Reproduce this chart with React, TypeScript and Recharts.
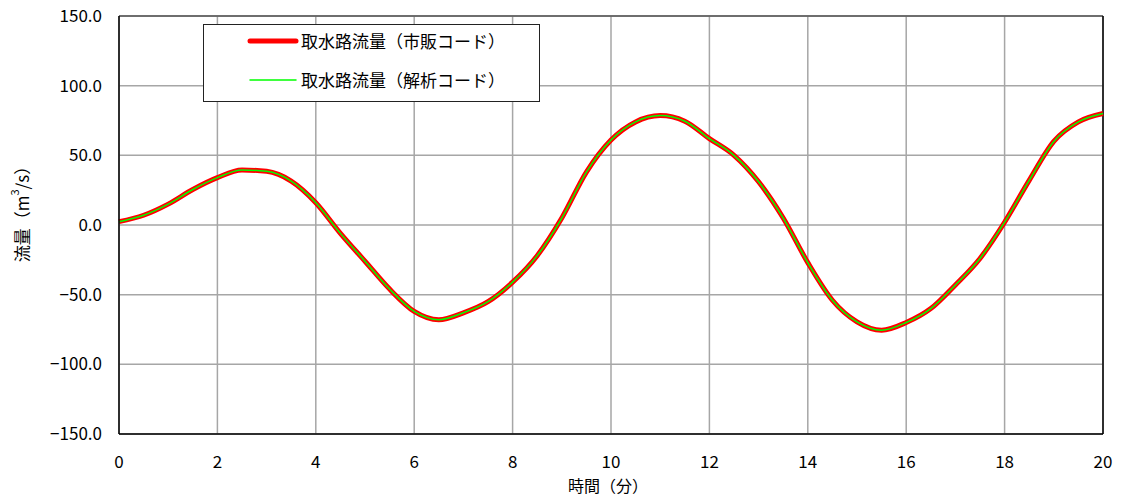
import React from "react";
import {
  LineChart,
  Line,
  XAxis,
  YAxis,
  CartesianGrid,
  Legend,
  ReferenceLine,
} from "recharts";

// 時間(分)
const minutes = [
  0, 0.5, 1, 1.5, 2, 2.5, 3, 3.5, 4, 4.5, 5, 5.5, 6, 6.5, 7, 7.5, 8, 8.5, 9,
  9.5, 10, 10.5, 11, 11.5, 12, 12.5, 13, 13.5, 14, 14.5, 15, 15.5, 16, 16.5,
  17, 17.5, 18, 18.5, 19, 19.5, 20,
];

// 取水路流量(市販コード) m3/s
const commercialFlow = [
  2.4, 7, 15, 25.5, 34, 39.5, 38.5, 31.5, 16, -6, -26, -46, -62, -68, -63, -55,
  -41, -22, 5, 38, 61, 74, 78.5, 74.5, 62, 50, 31, 5, -27, -54, -69.5, -75.5,
  -70, -60, -43, -24, 2, 32, 60, 74, 80,
];

// 取水路流量(解析コード) m3/s
const analysisFlow = [
  2.4, 7, 15, 25.5, 34, 39.5, 38.5, 31.5, 16, -6, -26, -46, -62, -68, -63, -55,
  -41, -22, 5, 38, 61, 74, 78.5, 74.5, 62, 50, 31, 5, -27, -54, -69.5, -75.5,
  -70, -60, -43, -24, 2, 32, 60, 74, 80,
];

const xTicks = [0, 2, 4, 6, 8, 10, 12, 14, 16, 18, 20];
const yTicks = [-150, -100, -50, 0, 50, 100, 150];

const data = minutes.map((t, i) => ({
  t,
  commercial: commercialFlow[i],
  analysis: analysisFlow[i],
}));

const FONT = '"Noto Sans CJK JP", "Noto Sans", sans-serif';
const TICK_STYLE = { fontSize: 17, fill: "#000", fontFamily: FONT };

const fmtY = (v: number) =>
  v < 0 ? "\u2212" + Math.abs(v).toFixed(1) : v.toFixed(1);

function YLabel() {
  return (
    <text
      x={21}
      y={210}
      transform="rotate(-90 21 210)"
      textAnchor="middle"
      dominantBaseline="central"
      fontSize={17}
      fontFamily={FONT}
      fill="#000"
    >
      流量（m
      <tspan dy={-7} fontSize={11}>
        3
      </tspan>
      <tspan dy={7}>/s）</tspan>
    </text>
  );
}

function XLabel() {
  return (
    <text
      x={608}
      y={485}
      textAnchor="middle"
      dominantBaseline="central"
      fontSize={16}
      fontFamily={FONT}
      fill="#000"
    >
      時間（分）
    </text>
  );
}

function renderLegend(props: any) {
  const { payload = [] } = props;
  return (
    <div
      style={{
        boxSizing: "border-box",
        width: 337,
        height: 78,
        border: "1px solid #222",
        background: "#fff",
        fontFamily: FONT,
        fontSize: 17,
      }}
    >
      {payload.map((entry: any, i: number) => (
        <div
          key={entry.value}
          style={{ display: "flex", alignItems: "center", height: 32, marginTop: i ? 7 : 0 }}
        >
          <svg width={97} height={10} style={{ flex: "none" }}>
            <line
              x1={46}
              x2={92}
              y1={5}
              y2={5}
              stroke={entry.color}
              strokeWidth={i === 0 ? 5 : 1.5}
              strokeLinecap="round"
            />
          </svg>
          <span style={{ color: "#000", whiteSpace: "nowrap", lineHeight: "32px" }}>{entry.value}</span>
        </div>
      ))}
    </div>
  );
}

export default function App() {
  return (
    <div style={{ position: "absolute", left: 0, top: 0, fontFamily: FONT, background: "#fff" }}>
      <LineChart
        width={1127}
        height={498}
        data={data}
        margin={{ top: 16, right: 24, left: 0, bottom: 0 }}
      >
        <CartesianGrid stroke="#a6a6a6" strokeWidth={1.5} horizontalValues={yTicks} verticalValues={xTicks} />
        <XAxis
          dataKey="t"
          type="number"
          domain={[0, 20]}
          ticks={xTicks}
          tick={TICK_STYLE}
          tickLine={false}
          tickSize={0}
          tickMargin={22}
          height={64}
          stroke="#000"
          strokeWidth={1.5}
          label={<XLabel />}
        />
        <YAxis
          type="number"
          domain={[-150, 150]}
          ticks={yTicks}
          tick={TICK_STYLE}
          tickFormatter={fmtY}
          tickLine={false}
          tickSize={0}
          tickMargin={17}
          width={119}
          stroke="#000"
          strokeWidth={1.5}
          label={<YLabel />}
        />
        <ReferenceLine y={150} stroke="#555" strokeWidth={1.5} />
        <ReferenceLine x={20} stroke="#000" strokeWidth={1.5} />
        <Legend
          content={renderLegend}
          layout="vertical"
          align="center"
          verticalAlign="middle"
          wrapperStyle={{ position: "absolute", left: 203, top: 24, width: 337, height: 78 }}
        />
        <Line
          type="monotone"
          dataKey="commercial"
          name="取水路流量（市販コード）"
          stroke="#ff0000"
          strokeWidth={5}
          dot={false}
          isAnimationActive={false}
        />
        <Line
          type="monotone"
          dataKey="analysis"
          name="取水路流量（解析コード）"
          stroke="#00ff00"
          strokeWidth={1.5}
          dot={false}
          isAnimationActive={false}
        />
      </LineChart>
    </div>
  );
}
